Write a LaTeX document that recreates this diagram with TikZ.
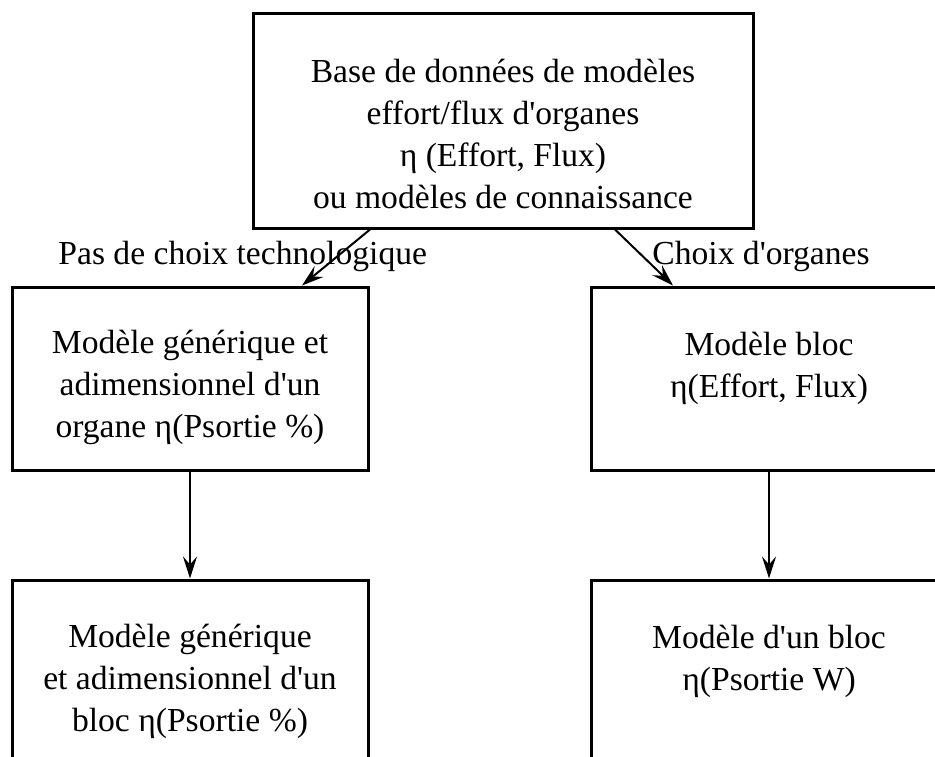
\documentclass[tikz,border=0pt]{standalone}
\usepackage{fontspec}
\setmainfont[Ligatures=TeXOff]{Liberation Serif}
\usepackage{tikz}
\usetikzlibrary{positioning, arrows.meta}

\begin{document}
\begin{tikzpicture}[
  font=\fontsize{16.8}{21}\selectfont,
  every node/.style={align=center},
  bloc/.style={
    rectangle, draw=black, line width=1.5pt, inner sep=0pt,
    minimum width=178pt, minimum height=91.5pt
  },
  texte/.style={inner sep=0pt},
  arr/.style={-{Stealth[length=11pt, width=7pt, inset=4pt]}, line width=1pt, draw=black},
  choix/.style={anchor=base west, inner sep=0pt}
]
\useasboundingbox (0,0) rectangle (467.5pt,-378pt);
\clip (0,0) rectangle (467.5pt,-378pt);

% ================ base de donnees ================
\node[bloc, minimum width=250pt, minimum height=107.5pt] (base) at (251.5pt,-60.25pt) {};
\node[texte] (baseTxt) at ([yshift=-61pt]base.north)
  {Base de données de modèles\\effort/flux d'organes\\η (Effort, Flux)\\ou modèles de connaissance};

% ================ niveau 2 ================
\node[bloc] (genOrg) at (95pt,-189.25pt) {};
\node[texte] (genOrgTxt) at ([yshift=-50.75pt]genOrg.north)
  {Modèle générique et\\adimensionnel d'un\\organe η(Psortie \%)};

\node[bloc] (blocEF) at (384.5pt,-189.25pt) {};
\node[texte] (blocEFTxt) at ([yshift=-41.5pt]blocEF.north)
  {Modèle bloc\\η(Effort, Flux)};

% ================ niveau 3 ================
\node[bloc, below=53.5pt of genOrg] (genBloc) {};
\node[texte] (genBlocTxt) at ([yshift=-51.5pt]genBloc.north)
  {Modèle générique\\et adimensionnel d'un\\bloc η(Psortie \%)};

\node[bloc, below=53.5pt of blocEF] (blocW) {};
\node[texte] (blocWTxt) at ([yshift=-41.5pt]blocW.north)
  {Modèle d'un bloc\\η(Psortie W)};

% ================ fleches ================
\draw[arr] ([xshift=-66.5pt]base.south) -- ([xshift=56pt]genOrg.north);
\draw[arr] ([xshift=56pt]base.south) -- ([xshift=-48pt]blocEF.north);
\draw[arr] (genOrg) -- (genBloc);
\draw[arr] (blocEF) -- (blocW);

\node[choix] (pasChoix) at (29pt,-132pt) {Pas de choix technologique};
\node[choix] (choixOrg) at (326pt,-132pt) {Choix d'organes};
\end{tikzpicture}
\end{document}
